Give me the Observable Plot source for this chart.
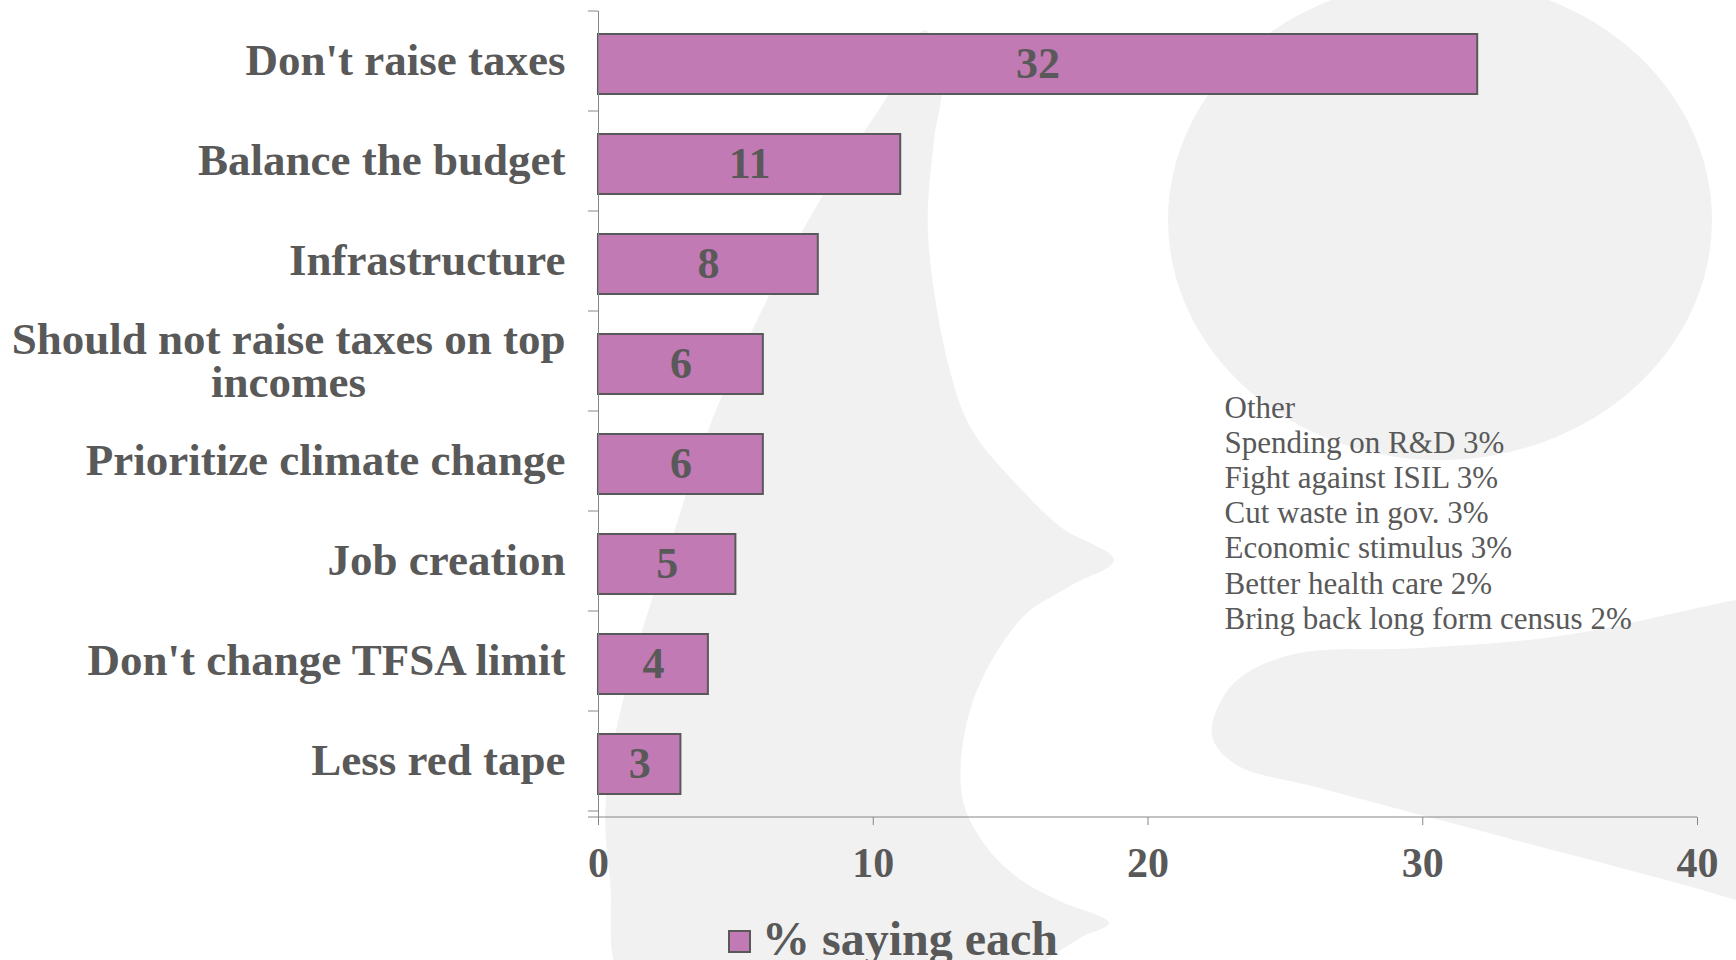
<!DOCTYPE html>
<html>
<head>
<meta charset="utf-8">
<script src="https://cdn.jsdelivr.net/npm/d3@7"></script>
<script src="https://cdn.jsdelivr.net/npm/@observablehq/plot@0.6"></script>
<style>
  html, body { margin: 0; padding: 0; background: #fff; width: 1736px; height: 960px; overflow: hidden; }
  #wrap { position: relative; width: 1736px; height: 960px; overflow: hidden; }
  #bg { position: absolute; left: 0; top: 0; }
  #chart { position: absolute; left: 0; top: 0; }
  #legend { position: absolute; left: 728px; top: 911px; display: flex; align-items: center;
    font-family: "Liberation Serif", serif; font-weight: bold; font-size: 48px; color: #595959; white-space: nowrap; }
  #legend .sw { width: 19px; height: 19px; background: #c27ab5; border: 2px solid #595959; margin-right: 11px; margin-top: 6px; }
</style>
</head>
<body>
<div id="wrap">
  <svg id="bg" width="1736" height="960"></svg>
  <div id="chart"></div>
  <div id="legend"><div class="sw"></div><span id="legendText"></span></div>
</div>
<script>
// ---- data ----
const categories = [
  "Don't raise taxes",
  "Balance the budget",
  "Infrastructure",
  "Should not raise taxes on top incomes",
  "Prioritize climate change",
  "Job creation",
  "Don't change TFSA limit",
  "Less red tape"
];
const categoryLabels = [
  "Don't raise taxes",
  "Balance the budget",
  "Infrastructure",
  "Should not raise taxes on top\nincomes",
  "Prioritize climate change",
  "Job creation",
  "Don't change TFSA limit",
  "Less red tape"
];
const values = [32, 11, 8, 6, 6, 5, 4, 3];
const xTicks = [0, 10, 20, 30, 40];
const otherLines = [
  "Other",
  "Spending on R&D 3%",
  "Fight against ISIL 3%",
  "Cut waste in gov. 3%",
  "Economic stimulus 3%",
  "Better health care 2%",
  "Bring back long form census 2%"
];
const seriesName = "% saying each";

// ---- styles ----
const barFill = "#c27ab5";
const textColor = "#595959";
const axisColor = "#868686";
const font = "'Liberation Serif', 'Times New Roman', serif";

// ---- background watermark (decoration) ----
(function drawWatermark() {
  const bg = d3.select("#bg");
  const grey = "#f1f1f1";
  const line = d3.line().curve(d3.curveCatmullRomClosed.alpha(0.5));
  bg.append("ellipse").attr("cx", 1440).attr("cy", 220).attr("rx", 272).attr("ry", 240).attr("fill", grey);
  const crescent = [
    [925, 30], [890, 92], [820, 200], [764, 306], [712, 420], [668, 551], [628, 680], [606, 796],
    [610, 880], [630, 990], [1000, 1000], [1040, 965], [1080, 938], [1109, 923], [1062, 902],
    [1021, 880], [985, 845], [962, 796], [972, 704], [1022, 618], [1070, 586], [1114, 560],
    [1062, 528], [1022, 490], [972, 430], [949, 367], [928, 233], [934, 140], [942, 80]
  ];
  bg.append("path").attr("d", line(crescent)).attr("fill", grey);
  const tail = [
    [1212, 735], [1232, 685], [1290, 655], [1420, 648], [1560, 636], [1736, 600], [1820, 585],
    [1820, 930], [1736, 900], [1500, 836], [1320, 788], [1235, 764]
  ];
  bg.append("path").attr("d", line(tail)).attr("fill", grey);
})();

// ---- chart ----
const data = categories.map((c, i) => ({category: c, value: values[i]}));
const labelOf = new Map(categories.map((c, i) => [c, categoryLabels[i]]));

const W = 1736, H = 900, mT = 11, mB = 83, mL = 598, mR = 39;

const chart = Plot.plot({
  width: W, height: H,
  marginTop: mT, marginBottom: mB, marginLeft: mL, marginRight: mR,
  style: {background: "transparent", fontFamily: font, color: textColor, overflow: "visible"},
  x: {domain: [xTicks[0], xTicks[xTicks.length - 1]], ticks: xTicks, label: null},
  y: {domain: categories, paddingInner: 0.4, paddingOuter: 0.2, label: null},
  marks: [
    Plot.barX(data, {x: "value", y: "category", fill: barFill, stroke: textColor, strokeWidth: 2}),
    Plot.text(data, {
      x: d => d.value / 2, y: "category", text: d => String(d.value),
      fontSize: 44, fontWeight: "bold", fill: textColor, dy: -1
    }),
    Plot.ruleX([0], {stroke: axisColor, strokeWidth: 1}),
    Plot.axisY({
      label: null, tickSize: 0, tickPadding: 33, fontSize: 45, fontWeight: "bold",
      fill: textColor, lineHeight: 0.96, dy: -3, tickFormat: d => labelOf.get(d)
    }),
    Plot.axisX({
      label: null, ticks: xTicks, tickSize: 8, tickPadding: 22, fontSize: 42, fontWeight: "bold",
      stroke: axisColor, fill: textColor
    }),
    Plot.text([otherLines.join("\n")], {
      frameAnchor: "top-left", dx: 626, dy: 382, lineAnchor: "top", textAnchor: "start",
      fontSize: 31, lineHeight: 1.13, fill: textColor
    })
  ]
});
document.getElementById("chart").appendChild(chart);
document.getElementById("legendText").textContent = seriesName;

// ---- Excel-style axis decorations using Plot's scales ----
(function decorate() {
  const ys = chart.scale("y"), xs = chart.scale("x");
  const [r0, r1] = ys.range;
  const n = categories.length;
  const st = ys.step || (r1 - r0) / n;
  const x0 = xs.apply(xTicks[0]);
  const x1 = xs.apply(xTicks[xTicks.length - 1]);
  const g = d3.select(chart).append("g").attr("stroke", axisColor).attr("stroke-width", 1).attr("fill", "none");
  for (let i = 0; i <= n; i++) {
    const y = r0 + i * st;
    g.append("line").attr("x1", x0 - 10).attr("x2", x0).attr("y1", y).attr("y2", y);
  }
  g.append("line").attr("x1", x0 - 10).attr("x2", x1).attr("y1", r1).attr("y2", r1);

  // center the lines of wrapped category labels on each other
  d3.select(chart).selectAll("g[aria-label='y-axis tick label'] text").each(function () {
    const tspans = this.querySelectorAll("tspan");
    if (tspans.length > 1) {
      let w = 0;
      tspans.forEach(t => { w = Math.max(w, t.getComputedTextLength()); });
      this.setAttribute("text-anchor", "middle");
      tspans.forEach(t => t.setAttribute("x", -w / 2));
    }
  });
})();
</script>
</body>
</html>
